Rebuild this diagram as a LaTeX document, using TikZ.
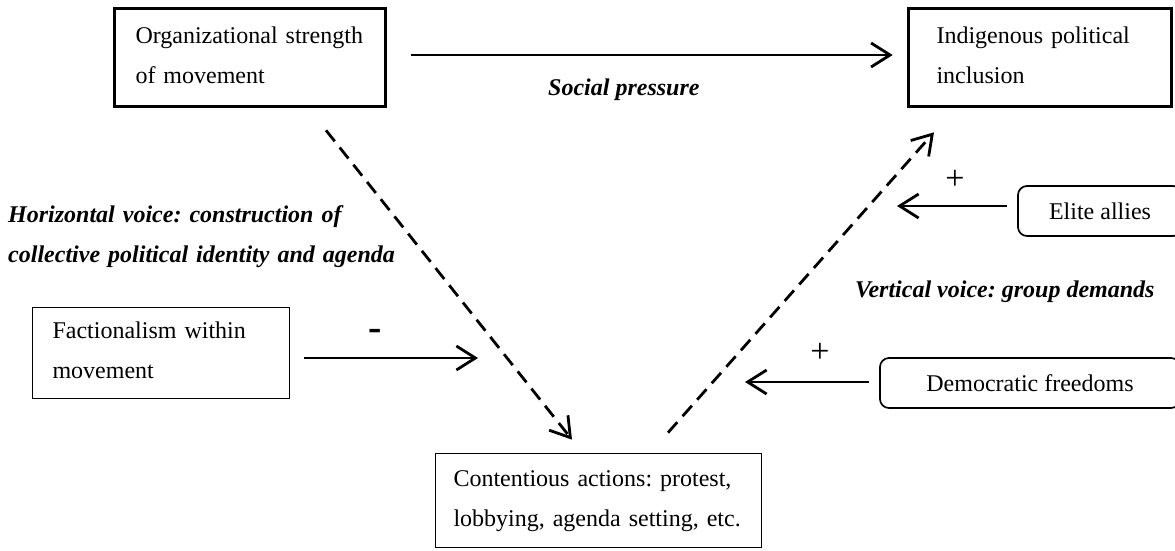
\documentclass[tikz,border=0pt]{standalone}
\usepackage{fontspec}
\setmainfont{Liberation Serif}
\usetikzlibrary{arrows.meta,calc}
\begin{document}
\frenchspacing
\begin{tikzpicture}[x=1pt,y=-1pt,
  every node/.style={font=\fontsize{24pt}{40pt}\selectfont},
  strongbox/.style={draw, line width=3.6pt, inner ysep=0pt, align=left, text height=17pt, text depth=46pt},
  thinbox/.style={draw, line width=1.7pt, inner ysep=0pt, align=left, text height=17pt, text depth=46pt},
  roundbox/.style={draw, line width=1.7pt, rounded corners=9pt, inner sep=0pt},
  arr/.style={line width=2.8pt, -{Straight Barb[length=19pt,width=24pt,line width=2.8pt]}},
  dasharr/.style={arr, dash pattern=on 14pt off 8pt},
  lbl/.style={font=\fontsize{24pt}{40pt}\selectfont\bfseries\itshape, inner sep=0pt},
  sign/.style={font=\fontsize{34pt}{40pt}\selectfont, inner sep=0pt},
]
\useasboundingbox (0,0) rectangle (1175,550);

\node[strongbox, minimum width=271pt, minimum height=98pt, text width=229pt, inner xsep=21pt] (org) at (250,57.5) {Organizational strength\\of movement};
\node[strongbox, minimum width=263pt, minimum height=98pt, text width=207pt, inner xsep=28pt] (inc) at (1040,57.5) {Indigenous political\\inclusion};
\node[thinbox, minimum width=257pt, minimum height=91pt, text width=217pt, inner xsep=20pt] (fact) at (161,353) {Factionalism within\\movement};
\node[thinbox, minimum width=326pt, minimum height=94pt, text width=290pt, inner xsep=18pt] (cont) at (598.5,500.5) {Contentious actions: protest,\\lobbying, agenda setting, etc.};
\node[roundbox, minimum width=164pt, minimum height=50pt] (elite) at (1100,211) {Elite allies};
\node[roundbox, minimum width=300pt, minimum height=50pt] (dem) at (1030,383) {Democratic freedoms};

\coordinate (eliteend) at (897,206);
\coordinate (factend) at (478,358);
\coordinate (demend) at (745,382);

\draw[arr, shorten <=24pt, shorten >=14pt] ([yshift=2.5pt]org.east) -- ([yshift=2.5pt]inc.west);
\draw[dasharr] ($(org.south)+(76,22)$) -- ($(cont.north)+(-26.5,-13)$);
\draw[dasharr] ($(cont.north)+(69.5,-20)$) -- ($(inc.south)+(-106,24)$);
\draw[arr, shorten <=10pt] ([yshift=5pt]elite.west) -- (eliteend);
\draw[arr, shorten <=14pt] ([yshift=-5pt]fact.east) -- (factend);
\draw[arr, shorten <=10pt] ([yshift=1pt]dem.west) -- (demend);

\node[lbl, anchor=base west] (social) at (548,95) {Social pressure};
\node[lbl, anchor=base west, text width=440pt, align=left] (horiz) at (8,222) {Horizontal voice: construction of\\collective political identity and agenda};
\node[lbl, anchor=base west] (vert) at (855,297) {Vertical voice: group demands};
\node[sign] (plus1) at (955,180) {+};
\node[sign] (plus2) at (820,353) {+};
\node[font=\fontsize{40pt}{40pt}\selectfont\bfseries, inner sep=0pt] (minus) at (375,335) {-};
\end{tikzpicture}
\end{document}
